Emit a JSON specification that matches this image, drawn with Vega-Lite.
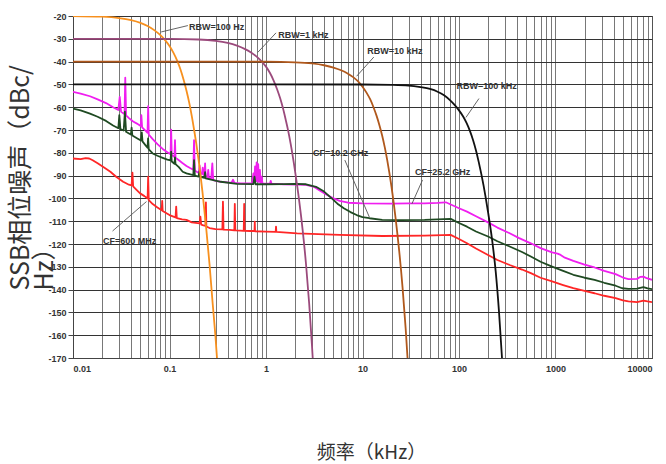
{
  "$schema": "https://vega.github.io/schema/vega-lite/v6.json",
  "autosize": "none",
  "width": 579,
  "height": 342,
  "padding": {"left": 73, "top": 16, "right": 14, "bottom": 106},
  "background": "white",
  "config": {
    "view": {"stroke": "#444", "strokeWidth": 1},
    "axis": {"labelFont": "Liberation Sans", "labelFontWeight": "bold", "labelFontSize": 9, "labelColor": "#333", "titleFont": "Noto Sans CJK SC", "titleFontWeight": "normal", "titleColor": "#333"},
    "axisY": {"labelOverlap": false, "labelBound": false, "labelFlush": false}
  },
  "datasets": {
    "curves": [
      {"s":"R","f":0.01,"v":-82.5},{"s":"R","f":0.012,"v":-82.8},{"s":"R","f":0.0135,"v":-82.3},{"s":"R","f":0.0147,"v":-82.5},{"s":"R","f":0.016,"v":-83.3},{"s":"R","f":0.018,"v":-84.6},{"s":"R","f":0.021,"v":-86.5},{"s":"R","f":0.0244,"v":-88.3},{"s":"R","f":0.028,"v":-90.5},{"s":"R","f":0.0331,"v":-92.7},{"s":"R","f":0.038,"v":-94},{"s":"R","f":0.0405,"v":-94.3},{"s":"R","f":0.0413,"v":-88.7},{"s":"R","f":0.042,"v":-94.7},{"s":"R","f":0.045,"v":-96},{"s":"R","f":0.0496,"v":-97.8},{"s":"R","f":0.055,"v":-99},{"s":"R","f":0.0593,"v":-100},{"s":"R","f":0.0601,"v":-90.5},{"s":"R","f":0.061,"v":-100.8},{"s":"R","f":0.067,"v":-102.5},{"s":"R","f":0.075,"v":-104},{"s":"R","f":0.083,"v":-105.2},{"s":"R","f":0.084,"v":-101.1},{"s":"R","f":0.085,"v":-105.5},{"s":"R","f":0.1,"v":-107.3},{"s":"R","f":0.11,"v":-108},{"s":"R","f":0.1155,"v":-108.4},{"s":"R","f":0.1173,"v":-103.6},{"s":"R","f":0.119,"v":-108.6},{"s":"R","f":0.135,"v":-109.2},{"s":"R","f":0.15,"v":-109.4},{"s":"R","f":0.17,"v":-110.5},{"s":"R","f":0.205,"v":-111},{"s":"R","f":0.209,"v":-108},{"s":"R","f":0.213,"v":-111.5},{"s":"R","f":0.225,"v":-111.8},{"s":"R","f":0.236,"v":-112},{"s":"R","f":0.2385,"v":-101.7},{"s":"R","f":0.241,"v":-112.3},{"s":"R","f":0.26,"v":-113},{"s":"R","f":0.3,"v":-113.5},{"s":"R","f":0.353,"v":-113.6},{"s":"R","f":0.358,"v":-101.4},{"s":"R","f":0.363,"v":-113.7},{"s":"R","f":0.42,"v":-113.8},{"s":"R","f":0.47,"v":-114},{"s":"R","f":0.475,"v":-102.4},{"s":"R","f":0.481,"v":-114},{"s":"R","f":0.54,"v":-114.1},{"s":"R","f":0.588,"v":-114.2},{"s":"R","f":0.594,"v":-102.4},{"s":"R","f":0.6,"v":-114.2},{"s":"R","f":0.68,"v":-114.3},{"s":"R","f":0.76,"v":-114.3},{"s":"R","f":0.765,"v":-110.2},{"s":"R","f":0.77,"v":-114.4},{"s":"R","f":1.0,"v":-114.6},{"s":"R","f":1.26,"v":-114.7},{"s":"R","f":1.27,"v":-112.4},{"s":"R","f":1.28,"v":-114.7},{"s":"R","f":2.1,"v":-115.3},{"s":"R","f":5.8,"v":-116},{"s":"R","f":16,"v":-116.5},{"s":"R","f":44,"v":-116.3},{"s":"R","f":82,"v":-116},{"s":"R","f":100,"v":-117.8},{"s":"R","f":121,"v":-119.7},{"s":"R","f":150,"v":-122},{"s":"R","f":200,"v":-124.8},{"s":"R","f":250,"v":-127},{"s":"R","f":335,"v":-129.2},{"s":"R","f":450,"v":-131.2},{"s":"R","f":555,"v":-132.8},{"s":"R","f":700,"v":-134.8},{"s":"R","f":922,"v":-136.4},{"s":"R","f":1200,"v":-138},{"s":"R","f":1530,"v":-139.4},{"s":"R","f":2000,"v":-140.6},{"s":"R","f":2540,"v":-141.6},{"s":"R","f":3200,"v":-142.7},{"s":"R","f":4200,"v":-143.7},{"s":"R","f":5000,"v":-144.7},{"s":"R","f":5700,"v":-145.2},{"s":"R","f":7000,"v":-145.5},{"s":"R","f":8150,"v":-144.8},{"s":"R","f":9000,"v":-145.2},{"s":"R","f":10000,"v":-145.5},

      {"s":"M","f":0.01,"v":-53.3},{"s":"M","f":0.012,"v":-54},{"s":"M","f":0.015,"v":-55.2},{"s":"M","f":0.018,"v":-56.6},{"s":"M","f":0.022,"v":-58.2},{"s":"M","f":0.026,"v":-60},{"s":"M","f":0.0295,"v":-61.2},{"s":"M","f":0.0305,"v":-55.5},{"s":"M","f":0.0315,"v":-62},{"s":"M","f":0.033,"v":-62.6},{"s":"M","f":0.0342,"v":-63},{"s":"M","f":0.0348,"v":-47},{"s":"M","f":0.0355,"v":-63.6},{"s":"M","f":0.038,"v":-64.8},{"s":"M","f":0.042,"v":-66.3},{"s":"M","f":0.046,"v":-67.2},{"s":"M","f":0.0503,"v":-68.3},{"s":"M","f":0.0511,"v":-63.5},{"s":"M","f":0.052,"v":-68.8},{"s":"M","f":0.056,"v":-70.2},{"s":"M","f":0.0592,"v":-71.2},{"s":"M","f":0.0601,"v":-59.5},{"s":"M","f":0.061,"v":-72},{"s":"M","f":0.067,"v":-74},{"s":"M","f":0.075,"v":-76.2},{"s":"M","f":0.085,"v":-78.3},{"s":"M","f":0.095,"v":-79.8},{"s":"M","f":0.1025,"v":-80.6},{"s":"M","f":0.104,"v":-69.8},{"s":"M","f":0.1055,"v":-81},{"s":"M","f":0.11,"v":-81.5},{"s":"M","f":0.1125,"v":-81.8},{"s":"M","f":0.114,"v":-74.4},{"s":"M","f":0.1155,"v":-82.2},{"s":"M","f":0.125,"v":-83.3},{"s":"M","f":0.136,"v":-84.5},{"s":"M","f":0.15,"v":-85.8},{"s":"M","f":0.165,"v":-86.8},{"s":"M","f":0.1765,"v":-87.4},{"s":"M","f":0.1796,"v":-74.4},{"s":"M","f":0.183,"v":-87.8},{"s":"M","f":0.195,"v":-88.5},{"s":"M","f":0.201,"v":-88.8},{"s":"M","f":0.205,"v":-85.5},{"s":"M","f":0.209,"v":-89},{"s":"M","f":0.217,"v":-89.3},{"s":"M","f":0.221,"v":-86.5},{"s":"M","f":0.225,"v":-89.6},{"s":"M","f":0.23,"v":-89.8},{"s":"M","f":0.2338,"v":-84.6},{"s":"M","f":0.237,"v":-90.2},{"s":"M","f":0.248,"v":-90.6},{"s":"M","f":0.252,"v":-87.5},{"s":"M","f":0.256,"v":-91},{"s":"M","f":0.27,"v":-91.5},{"s":"M","f":0.2778,"v":-84.6},{"s":"M","f":0.284,"v":-92},{"s":"M","f":0.31,"v":-92.4},{"s":"M","f":0.34,"v":-92.7},{"s":"M","f":0.4,"v":-93},{"s":"M","f":0.44,"v":-93.1},{"s":"M","f":0.455,"v":-91.8},{"s":"M","f":0.47,"v":-93.2},{"s":"M","f":0.55,"v":-93.4},{"s":"M","f":0.65,"v":-93.4},{"s":"M","f":0.72,"v":-93.3},{"s":"M","f":0.74,"v":-89},{"s":"M","f":0.755,"v":-93},{"s":"M","f":0.77,"v":-86},{"s":"M","f":0.785,"v":-92.5},{"s":"M","f":0.8,"v":-84.2},{"s":"M","f":0.815,"v":-92.5},{"s":"M","f":0.83,"v":-85},{"s":"M","f":0.845,"v":-92.8},{"s":"M","f":0.865,"v":-87.5},{"s":"M","f":0.88,"v":-93.2},{"s":"M","f":0.9,"v":-90.5},{"s":"M","f":0.92,"v":-93.5},{"s":"M","f":1.0,"v":-93.5},{"s":"M","f":1.1,"v":-93.5},{"s":"M","f":1.12,"v":-92.3},{"s":"M","f":1.14,"v":-93.6},{"s":"M","f":1.27,"v":-93.6},{"s":"M","f":1.5,"v":-93.8},{"s":"M","f":2.0,"v":-93.9},{"s":"M","f":2.6,"v":-94.1},{"s":"M","f":3.16,"v":-95},{"s":"M","f":3.6,"v":-96.5},{"s":"M","f":4.3,"v":-98.5},{"s":"M","f":5,"v":-100},{"s":"M","f":5.8,"v":-101.1},{"s":"M","f":7.1,"v":-101.9},{"s":"M","f":10,"v":-102.2},{"s":"M","f":20,"v":-102.3},{"s":"M","f":30,"v":-102.2},{"s":"M","f":44,"v":-102.2},{"s":"M","f":60,"v":-102},{"s":"M","f":73,"v":-101.7},{"s":"M","f":100,"v":-104.3},{"s":"M","f":121,"v":-105.8},{"s":"M","f":150,"v":-107.8},{"s":"M","f":200,"v":-110.5},{"s":"M","f":250,"v":-112.8},{"s":"M","f":335,"v":-115.3},{"s":"M","f":420,"v":-117.4},{"s":"M","f":555,"v":-119.7},{"s":"M","f":700,"v":-121.8},{"s":"M","f":922,"v":-123.7},{"s":"M","f":1050,"v":-124.2},{"s":"M","f":1130,"v":-124.8},{"s":"M","f":1250,"v":-126},{"s":"M","f":1530,"v":-127.4},{"s":"M","f":2000,"v":-129},{"s":"M","f":2540,"v":-130.3},{"s":"M","f":3200,"v":-131.8},{"s":"M","f":4200,"v":-133.2},{"s":"M","f":5000,"v":-134.7},{"s":"M","f":5700,"v":-135.4},{"s":"M","f":7000,"v":-135.3},{"s":"M","f":7600,"v":-134.4},{"s":"M","f":8150,"v":-134.3},{"s":"M","f":8800,"v":-135},{"s":"M","f":10000,"v":-135.7},

      {"s":"G","f":0.01,"v":-60.6},{"s":"G","f":0.012,"v":-61.4},{"s":"G","f":0.015,"v":-62.8},{"s":"G","f":0.018,"v":-64.2},{"s":"G","f":0.022,"v":-66},{"s":"G","f":0.026,"v":-68},{"s":"G","f":0.0295,"v":-69.2},{"s":"G","f":0.0302,"v":-63.5},{"s":"G","f":0.031,"v":-69.6},{"s":"G","f":0.0335,"v":-70.2},{"s":"G","f":0.0345,"v":-62},{"s":"G","f":0.0355,"v":-70.8},{"s":"G","f":0.038,"v":-71.5},{"s":"G","f":0.0398,"v":-72},{"s":"G","f":0.0405,"v":-69},{"s":"G","f":0.0412,"v":-72.4},{"s":"G","f":0.046,"v":-73.6},{"s":"G","f":0.0505,"v":-74.6},{"s":"G","f":0.0516,"v":-71},{"s":"G","f":0.0525,"v":-75},{"s":"G","f":0.056,"v":-76.5},{"s":"G","f":0.0592,"v":-77.8},{"s":"G","f":0.06,"v":-73.7},{"s":"G","f":0.061,"v":-78.5},{"s":"G","f":0.067,"v":-80.3},{"s":"G","f":0.075,"v":-81.3},{"s":"G","f":0.085,"v":-82.2},{"s":"G","f":0.095,"v":-83},{"s":"G","f":0.1025,"v":-83.3},{"s":"G","f":0.104,"v":-79.5},{"s":"G","f":0.1055,"v":-83.8},{"s":"G","f":0.1125,"v":-84.8},{"s":"G","f":0.114,"v":-82},{"s":"G","f":0.1155,"v":-85},{"s":"G","f":0.125,"v":-86.3},{"s":"G","f":0.137,"v":-88.3},{"s":"G","f":0.15,"v":-89},{"s":"G","f":0.165,"v":-89.5},{"s":"G","f":0.1765,"v":-89.8},{"s":"G","f":0.1796,"v":-83.2},{"s":"G","f":0.183,"v":-90},{"s":"G","f":0.2,"v":-90.4},{"s":"G","f":0.205,"v":-88},{"s":"G","f":0.21,"v":-90.6},{"s":"G","f":0.23,"v":-91},{"s":"G","f":0.2338,"v":-88.5},{"s":"G","f":0.237,"v":-91.2},{"s":"G","f":0.27,"v":-91.8},{"s":"G","f":0.34,"v":-92.7},{"s":"G","f":0.5,"v":-93.6},{"s":"G","f":0.74,"v":-93.7},{"s":"G","f":0.76,"v":-90.5},{"s":"G","f":0.78,"v":-93.8},{"s":"G","f":1.0,"v":-93.8},{"s":"G","f":1.5,"v":-93.7},{"s":"G","f":2.0,"v":-93.6},{"s":"G","f":2.6,"v":-93.8},{"s":"G","f":3.3,"v":-94.9},{"s":"G","f":4.0,"v":-97},{"s":"G","f":4.8,"v":-100},{"s":"G","f":5.5,"v":-102.3},{"s":"G","f":6.4,"v":-104.3},{"s":"G","f":7.5,"v":-106},{"s":"G","f":8.7,"v":-107.3},{"s":"G","f":10,"v":-108.2},{"s":"G","f":11.8,"v":-108.7},{"s":"G","f":16,"v":-109.4},{"s":"G","f":25,"v":-109.5},{"s":"G","f":44,"v":-109.4},{"s":"G","f":60,"v":-109.2},{"s":"G","f":82,"v":-109},{"s":"G","f":100,"v":-110.8},{"s":"G","f":121,"v":-112.4},{"s":"G","f":150,"v":-114.5},{"s":"G","f":200,"v":-116.7},{"s":"G","f":250,"v":-118.8},{"s":"G","f":335,"v":-121.1},{"s":"G","f":450,"v":-123.5},{"s":"G","f":555,"v":-125.5},{"s":"G","f":700,"v":-127.8},{"s":"G","f":922,"v":-129.9},{"s":"G","f":1200,"v":-131.8},{"s":"G","f":1530,"v":-133.5},{"s":"G","f":2000,"v":-134.8},{"s":"G","f":2540,"v":-135.7},{"s":"G","f":3200,"v":-137},{"s":"G","f":4200,"v":-138.3},{"s":"G","f":4900,"v":-139.4},{"s":"G","f":5700,"v":-139.7},{"s":"G","f":7000,"v":-139.6},{"s":"G","f":8150,"v":-138.9},{"s":"G","f":9000,"v":-139.5},{"s":"G","f":10000,"v":-139.8},

      {"s":"o","f":0.01,"v":-20},{"s":"o","f":0.02,"v":-20.3},{"s":"o","f":0.03,"v":-20.9},{"s":"o","f":0.04,"v":-21.8},{"s":"o","f":0.05,"v":-23},{"s":"o","f":0.06,"v":-24.5},{"s":"o","f":0.07,"v":-26.3},{"s":"o","f":0.08,"v":-28.3},{"s":"o","f":0.09,"v":-30.6},{"s":"o","f":0.1,"v":-33.2},{"s":"o","f":0.11,"v":-36.2},{"s":"o","f":0.12,"v":-39.6},{"s":"o","f":0.13,"v":-43.5},{"s":"o","f":0.14,"v":-48},{"s":"o","f":0.15,"v":-52.8},{"s":"o","f":0.16,"v":-58},{"s":"o","f":0.17,"v":-63.8},{"s":"o","f":0.18,"v":-70},{"s":"o","f":0.19,"v":-76.3},{"s":"o","f":0.2,"v":-83},{"s":"o","f":0.22,"v":-97.5},{"s":"o","f":0.24,"v":-113},{"s":"o","f":0.26,"v":-129},{"s":"o","f":0.28,"v":-146},{"s":"o","f":0.3,"v":-161},{"s":"o","f":0.32,"v":-178},

      {"s":"p","f":0.01,"v":-30},{"s":"p","f":0.1,"v":-30.05},{"s":"p","f":0.2,"v":-30.3},{"s":"p","f":0.3,"v":-30.9},{"s":"p","f":0.4,"v":-31.8},{"s":"p","f":0.5,"v":-33},{"s":"p","f":0.6,"v":-34.4},{"s":"p","f":0.7,"v":-36},{"s":"p","f":0.8,"v":-37.8},{"s":"p","f":0.9,"v":-39.9},{"s":"p","f":1,"v":-42.2},{"s":"p","f":1.1,"v":-45},{"s":"p","f":1.2,"v":-48.3},{"s":"p","f":1.3,"v":-52},{"s":"p","f":1.4,"v":-56},{"s":"p","f":1.5,"v":-60.5},{"s":"p","f":1.6,"v":-65.5},{"s":"p","f":1.7,"v":-70.5},{"s":"p","f":1.8,"v":-76},{"s":"p","f":2,"v":-88},{"s":"p","f":2.2,"v":-100.5},{"s":"p","f":2.4,"v":-114},{"s":"p","f":2.6,"v":-129},{"s":"p","f":2.8,"v":-146},{"s":"p","f":3,"v":-165},{"s":"p","f":3.2,"v":-185},

      {"s":"b","f":0.01,"v":-40},{"s":"b","f":1,"v":-40.05},{"s":"b","f":2,"v":-40.3},{"s":"b","f":3,"v":-40.8},{"s":"b","f":4,"v":-41.6},{"s":"b","f":5,"v":-42.6},{"s":"b","f":6,"v":-43.8},{"s":"b","f":7,"v":-45.2},{"s":"b","f":8,"v":-46.8},{"s":"b","f":9,"v":-48.7},{"s":"b","f":10,"v":-51},{"s":"b","f":11,"v":-53.6},{"s":"b","f":12,"v":-56.5},{"s":"b","f":13,"v":-60},{"s":"b","f":14,"v":-63.8},{"s":"b","f":15,"v":-68},{"s":"b","f":16,"v":-72.5},{"s":"b","f":17,"v":-77.5},{"s":"b","f":18,"v":-83},{"s":"b","f":20,"v":-95},{"s":"b","f":22,"v":-108.5},{"s":"b","f":24,"v":-123},{"s":"b","f":26,"v":-139},{"s":"b","f":28,"v":-157},{"s":"b","f":30,"v":-177},

      {"s":"k","f":0.01,"v":-50},{"s":"k","f":10,"v":-50.05},{"s":"k","f":20,"v":-50.2},{"s":"k","f":30,"v":-50.5},{"s":"k","f":40,"v":-51.2},{"s":"k","f":50,"v":-52},{"s":"k","f":60,"v":-53.2},{"s":"k","f":70,"v":-54.8},{"s":"k","f":80,"v":-56.8},{"s":"k","f":90,"v":-59},{"s":"k","f":100,"v":-61.4},{"s":"k","f":110,"v":-64},{"s":"k","f":120,"v":-67},{"s":"k","f":130,"v":-70.5},{"s":"k","f":140,"v":-74.5},{"s":"k","f":150,"v":-79},{"s":"k","f":160,"v":-84},{"s":"k","f":180,"v":-94.5},{"s":"k","f":200,"v":-106},{"s":"k","f":220,"v":-118},{"s":"k","f":240,"v":-132},{"s":"k","f":260,"v":-150},{"s":"k","f":280,"v":-171},{"s":"k","f":300,"v":-193}
    ],
    "labels": [
      {"t":"RBW=100 Hz","f":0.159,"v":-24.8},
      {"t":"RBW=1 kHz","f":1.34,"v":-28.5},
      {"t":"RBW=10 kHz","f":11.2,"v":-35.5},
      {"t":"RBW=100 kHz","f":94.2,"v":-50.5},
      {"t":"CF=10.2 GHz","f":3.07,"v":-80},
      {"t":"CF=25.2 GHz","f":34.9,"v":-88.3},
      {"t":"CF=600 MHz","f":0.0205,"v":-118.5}
    ],
    "arrows": [
      {"f":0.155,"v":-24.2,"f2":0.082,"v2":-27},
      {"f":1.27,"v":-27.4,"f2":0.82,"v2":-36},
      {"f":13.1,"v":-38,"f2":8.7,"v2":-46.4},
      {"f":161,"v":-56.2,"f2":118,"v2":-64.5},
      {"f":6.56,"v":-83.2,"f2":11.8,"v2":-108.3},
      {"f":41.9,"v":-91.9,"f2":32.5,"v2":-102.4},
      {"f":0.0257,"v":-114.3,"f2":0.0577,"v2":-101.4}
    ]
  },
  "encoding": {
    "x": {"field": "f", "type": "quantitative",
      "scale": {"type": "log", "domain": [0.01, 10000], "nice": false},
      "axis": {"title": "频率（kHz）", "titleFontSize": 19, "titleX": 298, "titleY": 94, "titleAlign": "center", "titleBaseline": "middle",
        "values": [0.01,0.02,0.03,0.04,0.05,0.06,0.07,0.08,0.09,0.1,0.2,0.3,0.4,0.5,0.6,0.7,0.8,0.9,1,2,3,4,5,6,7,8,9,10,20,30,40,50,60,70,80,90,100,200,300,400,500,600,700,800,900,1000,2000,3000,4000,5000,6000,7000,8000,9000,10000],
        "format": "~g",
        "labelExpr": "indexof([0.01,0.1,1,10,100,1000,10000], datum.value) >= 0 ? datum.label : ''",
        "labelOverlap": false, "labelPadding": 6, "ticks": false,
        "grid": true, "gridColor": "#555", "gridWidth": 0.8, "domainColor": "#444"}},
    "y": {"field": "v", "type": "quantitative",
      "scale": {"domain": [-170, -20], "nice": false, "zero": false},
      "axis": {"title": ["SSB相位噪声（dBc/", "Hz）"], "titleFontSize": 25, "titleX": -65, "titleY": 274, "titleAlign": "left", "titleBaseline": "top", "titleLineHeight": 24, "titleAngle": -90,
        "values": [-170,-160,-150,-140,-130,-120,-110,-100,-90,-80,-70,-60,-50,-40,-30,-20],
        "labelExpr": "'' + datum.value", "labelOverlap": false, "labelPadding": 2, "tickSize": 5, "tickColor": "#444",
        "grid": true, "gridColor": "#333", "gridWidth": 1, "domainColor": "#444"}}
  },
  "layer": [
    {
      "data": {"name": "curves"},
      "transform": [{"filter": "indexof(['R','M','G'], datum.s) >= 0"}],
      "mark": {"type": "line", "clip": true, "strokeWidth": 1.8, "strokeJoin": "round"},
      "encoding": {
        "color": {"field": "s", "type": "nominal", "legend": null,
          "scale": {"domain": ["R","M","G","o","p","b","k"], "range": ["#ff2626","#f01ef0","#1f4a22","#f7901e","#9b4a7c","#b0581c","#111111"]}}
      }
    },
    {
      "data": {"name": "curves"},
      "transform": [{"filter": "indexof(['o','p','b','k'], datum.s) >= 0"}],
      "mark": {"type": "line", "clip": true, "strokeWidth": 1.8, "interpolate": "monotone"},
      "encoding": {
        "color": {"field": "s", "type": "nominal", "legend": null}
      }
    },
    {
      "data": {"name": "arrows"},
      "mark": {"type": "rule", "color": "#555", "strokeWidth": 0.9},
      "encoding": {
        "x2": {"field": "f2"},
        "y2": {"field": "v2"}
      }
    },
    {
      "data": {"name": "labels"},
      "mark": {"type": "text", "align": "left", "baseline": "middle", "font": "Liberation Sans", "fontWeight": "bold", "fontSize": 9, "color": "#333"},
      "encoding": {
        "text": {"field": "t"}
      }
    }
  ]
}
